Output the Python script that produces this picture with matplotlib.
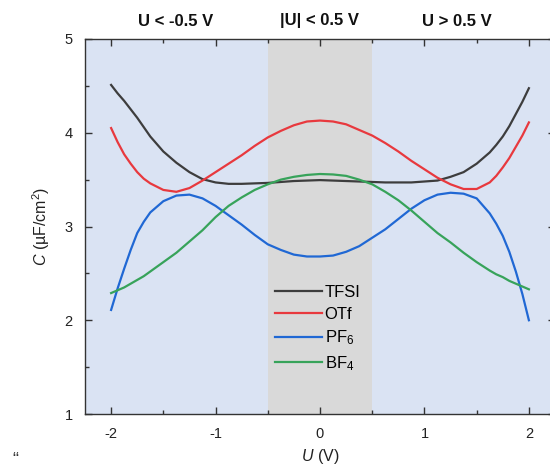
import matplotlib
matplotlib.use("Agg")
import matplotlib.pyplot as plt
from matplotlib.ticker import MultipleLocator
import matplotlib.transforms as mtransforms

plt.rcParams['font.family'] = ['Liberation Sans', 'DejaVu Sans']
plt.rcParams['mathtext.fontset'] = 'custom'
plt.rcParams['mathtext.rm'] = 'Liberation Sans'
plt.rcParams['mathtext.it'] = 'Liberation Sans:italic'
plt.rcParams['mathtext.bf'] = 'Liberation Sans:bold'

# ---- data ----
U = [-2.0, -1.9375, -1.875, -1.8125, -1.75, -1.6875, -1.625, -1.5, -1.375, -1.25, -1.125,
     -1.0, -0.875, -0.75, -0.625, -0.5, -0.375, -0.25, -0.125, 0.0, 0.125, 0.25, 0.375,
     0.5, 0.625, 0.75, 0.875, 1.0, 1.125, 1.25, 1.375, 1.5, 1.625, 1.6875, 1.75, 1.8125,
     1.875, 1.9375, 2.0]

TFSI = [4.51, 4.42, 4.34, 4.25, 4.16, 4.06, 3.96, 3.80, 3.68, 3.58, 3.505,
        3.47, 3.455, 3.455, 3.46, 3.465, 3.475, 3.485, 3.49, 3.495, 3.49, 3.485, 3.48,
        3.475, 3.47, 3.47, 3.47, 3.48, 3.49, 3.53, 3.58, 3.67, 3.79, 3.87, 3.96, 4.07,
        4.20, 4.33, 4.475]

OTf = [4.05, 3.90, 3.77, 3.67, 3.58, 3.51, 3.46, 3.39, 3.37, 3.41, 3.49,
       3.58, 3.67, 3.76, 3.86, 3.95, 4.02, 4.08, 4.12, 4.13, 4.12, 4.09, 4.03,
       3.97, 3.89, 3.80, 3.70, 3.61, 3.52, 3.45, 3.40, 3.40, 3.47, 3.54, 3.63, 3.73,
       3.85, 3.97, 4.11]

PF6 = [2.11, 2.34, 2.55, 2.75, 2.93, 3.05, 3.15, 3.27, 3.33, 3.34, 3.30,
       3.22, 3.12, 3.02, 2.91, 2.81, 2.75, 2.70, 2.68, 2.68, 2.69, 2.73, 2.79,
       2.88, 2.97, 3.08, 3.19, 3.28, 3.34, 3.36, 3.35, 3.30, 3.14, 3.03, 2.90, 2.73,
       2.52, 2.28, 2.00]

BF4 = [2.29, 2.32, 2.35, 2.39, 2.43, 2.47, 2.52, 2.62, 2.72, 2.84, 2.96,
       3.10, 3.22, 3.31, 3.39, 3.45, 3.50, 3.53, 3.55, 3.56, 3.555, 3.54, 3.50,
       3.45, 3.37, 3.28, 3.17, 3.05, 2.93, 2.83, 2.72, 2.62, 2.53, 2.49, 2.46, 2.42,
       2.39, 2.36, 2.33]

series_names = ['TFSI', 'OTf', 'PF$_6$', 'BF$_4$']
series_colors = ['#3d3d3d', '#e8393e', '#2068d4', '#37a35a']

region_labels = ['U < -0.5 V', '|U| < 0.5 V', 'U > 0.5 V']
region_centers = [-1.38, 0.0, 1.31]
window = (-0.5, 0.5)

# ---- figure ----
fig = plt.figure(figsize=(5.5, 4.74), dpi=100)
ax = fig.add_axes([85/550, 60/474, 470/550, 375/474])

ax.set_xlim(-2.25, 2.25)
ax.set_ylim(1, 5)
ax.set_facecolor('#dae3f3')
ax.axvspan(window[0], window[1], color='#d9d9d9', zorder=0.5, lw=0)

for y, name, c in zip([TFSI, OTf, PF6, BF4], series_names, series_colors):
    ax.plot(U, y, color=c, lw=1.6, label=name, zorder=2, solid_joinstyle='round')

ax.xaxis.set_major_locator(MultipleLocator(1))
ax.xaxis.set_minor_locator(MultipleLocator(0.5))
ax.yaxis.set_major_locator(MultipleLocator(1))
ax.yaxis.set_minor_locator(MultipleLocator(0.5))
ax.tick_params(which='both', direction='in', top=True, right=True, colors='#333333',
               labelcolor='#222222', labelsize=10.5, pad=9)
ax.tick_params(which='major', length=5, width=1)
ax.tick_params(which='minor', length=3, width=1)
for s in ax.spines.values():
    s.set_color('#333333')
    s.set_linewidth(1.0)

ax.set_xticks([-2, -1, 0, 1, 2])
ax.set_xticklabels(['-2', '-1', '0', '1', '2'])

ax.set_xlabel('$U$ (V)', fontsize=11.5, labelpad=5, color='#222222')
ax.set_ylabel('$C$ (µF/cm$^2$)', fontsize=11.5, labelpad=9, color='#222222')

trans = mtransforms.blended_transform_factory(ax.transData, ax.transAxes)
for lab, xc in zip(region_labels, region_centers):
    ax.text(xc, 1.048, lab, transform=trans, ha='center', va='center',
            fontsize=12, fontweight='bold', color='#111111')

leg = ax.legend(loc='upper left', bbox_to_anchor=(0.405, 0.345), frameon=False,
                borderaxespad=0, borderpad=0, handlelength=2.8, handletextpad=0.15,
                labelspacing=0.42, fontsize=12)

fig.text(12/550, 1 - 460/474, '“', fontsize=13, color='#333333', ha='left', va='center')

fig.savefig('out.png', dpi=100)
